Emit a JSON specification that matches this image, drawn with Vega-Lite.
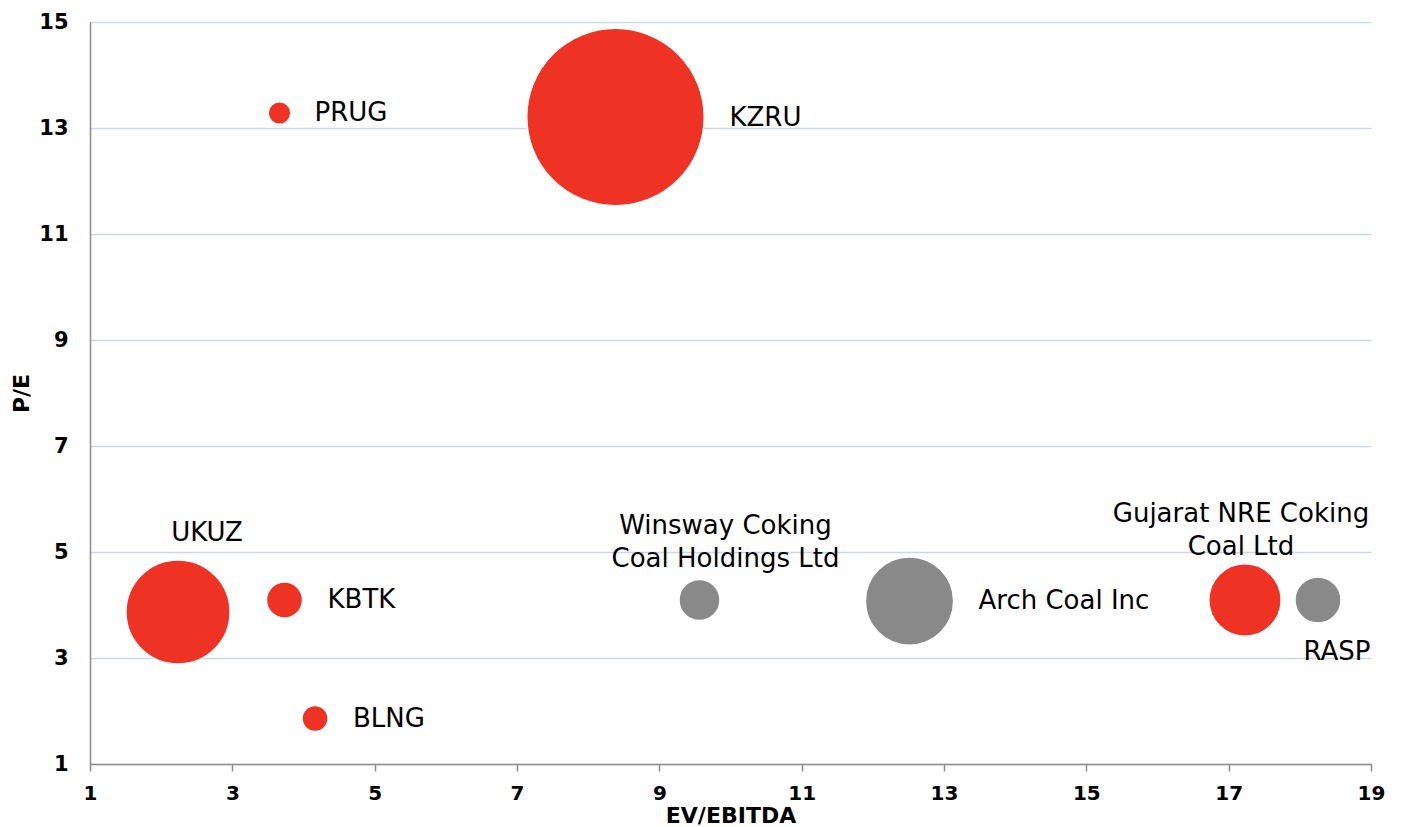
{
  "$schema": "https://vega.github.io/schema/vega-lite/v6.json",
  "width": 1281,
  "height": 742,
  "autosize": {"type": "none"},
  "padding": {"left": 90, "top": 22, "right": 34, "bottom": 63},
  "background": "white",
  "config": {"view": {"stroke": null}, "font": "DejaVu Sans"},
  "data": {
    "values": [
      {"name": "PRUG", "label": "PRUG", "ev_ebitda": 3.663, "pe": 13.283, "mcap": 4.0, "group": "focus"},
      {"name": "KZRU", "label": "KZRU", "ev_ebitda": 8.384, "pe": 13.208, "mcap": 247, "group": "focus"},
      {"name": "UKUZ", "label": "UKUZ", "ev_ebitda": 2.237, "pe": 3.868, "mcap": 85, "group": "focus"},
      {"name": "KBTK", "label": "KBTK", "ev_ebitda": 3.733, "pe": 4.094, "mcap": 10.2, "group": "focus"},
      {"name": "BLNG", "label": "BLNG", "ev_ebitda": 4.162, "pe": 1.858, "mcap": 5.3, "group": "focus"},
      {"name": "Winsway", "label": "Winsway Coking\nCoal Holdings  Ltd", "ev_ebitda": 9.564, "pe": 4.094, "mcap": 13.2, "group": "peer"},
      {"name": "Arch", "label": "Arch Coal  Inc", "ev_ebitda": 12.515, "pe": 4.075, "mcap": 61, "group": "peer"},
      {"name": "Gujarat", "label": "Gujarat NRE Coking\nCoal Ltd", "ev_ebitda": 17.229, "pe": 4.094, "mcap": 41, "group": "focus"},
      {"name": "RASP", "label": "RASP", "ev_ebitda": 18.255, "pe": 4.094, "mcap": 16.6, "group": "peer"}
    ]
  },
  "encoding": {
    "x": {
      "field": "ev_ebitda",
      "type": "quantitative",
      "scale": {"domain": [1, 19], "nice": false, "zero": false},
      "axis": {
        "values": [1, 3, 5, 7, 9, 11, 13, 15, 17, 19],
        "title": "EV/EBITDA",
        "titleFont": "DejaVu Sans",
        "titleFontWeight": "bold",
        "titleFontSize": 22,
        "titleColor": "#000000",
        "titleY": 58,
        "titleBaseline": "alphabetic",
        "labelFont": "DejaVu Sans",
        "labelFontSize": 20,
        "labelFontWeight": "bold",
        "labelColor": "#000000",
        "labelFlush": false,
        "labelOverlap": false,
        "labelPadding": 12,
        "grid": false,
        "domainColor": "#8C8C8C",
        "domainWidth": 1.5,
        "tickColor": "#8C8C8C",
        "tickWidth": 1.5,
        "tickSize": 7
      }
    },
    "y": {
      "field": "pe",
      "type": "quantitative",
      "scale": {"domain": [1, 15], "nice": false, "zero": false},
      "axis": {
        "values": [1, 3, 5, 7, 9, 11, 13, 15],
        "title": "P/E",
        "titleFont": "DejaVu Sans",
        "titleFontWeight": "bold",
        "titleFontSize": 22,
        "titleColor": "#000000",
        "titleAngle": -90,
        "titleX": -62,
        "titleY": 371,
        "titleAlign": "center",
        "titleBaseline": "alphabetic",
        "labelFont": "DejaVu Sans",
        "labelFontSize": 21,
        "labelFontWeight": "bold",
        "labelColor": "#000000",
        "labelFlush": false,
        "labelOverlap": false,
        "labelPadding": 22,
        "ticks": false,
        "tickSize": 0,
        "grid": true,
        "gridColor": "#C9D7E6",
        "gridWidth": 1.5,
        "domainColor": "#8C8C8C",
        "domainWidth": 1.5
      }
    }
  },
  "layer": [
    {
      "mark": {"type": "circle", "opacity": 1, "stroke": "white", "strokeWidth": 1.5},
      "encoding": {
        "size": {"field": "mcap", "type": "quantitative", "scale": {"domain": [0, 247], "range": [0, 31506], "zero": true}, "legend": null},
        "color": {"field": "group", "type": "nominal", "scale": {"domain": ["focus", "peer"], "range": ["#EE3224", "#898989"]}, "legend": null}
      }
    },
    {
      "transform": [{"filter": "datum.name === 'PRUG'"}],
      "mark": {"type": "text", "align": "left", "baseline": "middle", "dx": 35, "dy": 0, "fontSize": 26, "font": "DejaVu Sans", "color": "#000000"},
      "encoding": {"text": {"field": "label"}}
    },
    {
      "transform": [{"filter": "datum.name === 'KZRU'"}],
      "mark": {"type": "text", "align": "left", "baseline": "middle", "dx": 114, "dy": 1, "fontSize": 26, "font": "DejaVu Sans", "color": "#000000"},
      "encoding": {"text": {"field": "label"}}
    },
    {
      "transform": [{"filter": "datum.name === 'UKUZ'"}],
      "mark": {"type": "text", "align": "center", "baseline": "middle", "dx": 29, "dy": -79, "fontSize": 26, "font": "DejaVu Sans", "color": "#000000"},
      "encoding": {"text": {"field": "label"}}
    },
    {
      "transform": [{"filter": "datum.name === 'KBTK'"}],
      "mark": {"type": "text", "align": "left", "baseline": "middle", "dx": 43, "dy": 0, "fontSize": 26, "font": "DejaVu Sans", "color": "#000000"},
      "encoding": {"text": {"field": "label"}}
    },
    {
      "transform": [{"filter": "datum.name === 'BLNG'"}],
      "mark": {"type": "text", "align": "left", "baseline": "middle", "dx": 38, "dy": 0, "fontSize": 26, "font": "DejaVu Sans", "color": "#000000"},
      "encoding": {"text": {"field": "label"}}
    },
    {
      "transform": [{"filter": "datum.name === 'Winsway'"}],
      "mark": {"type": "text", "align": "center", "baseline": "middle", "dx": 26, "dy": -74, "fontSize": 26, "font": "DejaVu Sans", "color": "#000000", "lineBreak": "\n", "lineHeight": 33},
      "encoding": {"text": {"field": "label"}}
    },
    {
      "transform": [{"filter": "datum.name === 'Arch'"}],
      "mark": {"type": "text", "align": "left", "baseline": "middle", "dx": 69, "dy": 0, "fontSize": 26, "font": "DejaVu Sans", "color": "#000000"},
      "encoding": {"text": {"field": "label"}}
    },
    {
      "transform": [{"filter": "datum.name === 'Gujarat'"}],
      "mark": {"type": "text", "align": "center", "baseline": "middle", "dx": -4, "dy": -86, "fontSize": 26, "font": "DejaVu Sans", "color": "#000000", "lineBreak": "\n", "lineHeight": 33},
      "encoding": {"text": {"field": "label"}}
    },
    {
      "transform": [{"filter": "datum.name === 'RASP'"}],
      "mark": {"type": "text", "align": "center", "baseline": "middle", "dx": 19, "dy": 52, "fontSize": 26, "font": "DejaVu Sans", "color": "#000000"},
      "encoding": {"text": {"field": "label"}}
    }
  ]
}
